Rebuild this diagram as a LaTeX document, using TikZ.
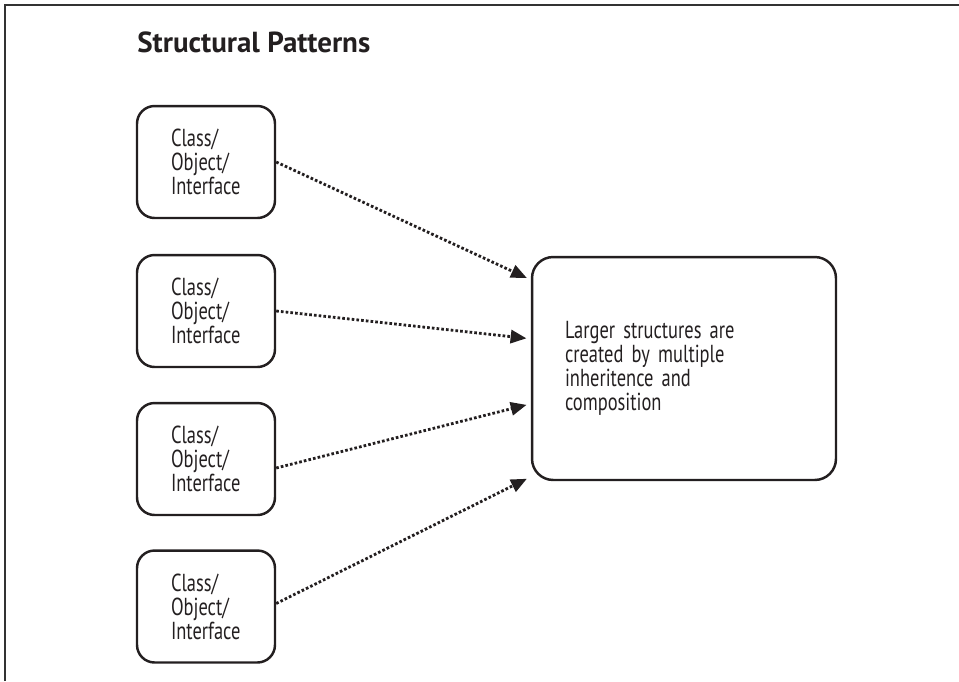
\documentclass[tikz,border=0pt]{standalone}
\usepackage{fontspec}
\setmainfont{PT Sans}[FakeStretch=0.75]
\newfontfamily\ttlfont{PT Sans}
\usetikzlibrary{arrows.meta, calc, positioning}
\definecolor{Ink}  {HTML}{231F20}
\definecolor{Frame}{HTML}{333333}
\tikzset{
  part/.style={
    rectangle, rounded corners=10pt,
    draw=Ink, line width=1.4pt, text=Ink,
    font=\fontsize{14}{13.6}\selectfont, align=left,
    text width=1.4cm, inner xsep=0.68cm,
    minimum width=2.76cm, minimum height=2.24cm,
  },
  whole/.style={
    part, text width=4.76cm, inner xsep=0.66cm,
    minimum width=6.08cm, minimum height=4.46cm, rounded corners=12pt,
  },
  arr/.style={
    -{Triangle[length=9pt,width=7.5pt]},
    line width=1.6pt, color=Ink,
    dash pattern=on 1.5pt off 1.2pt, shorten >=2.5pt,
  },
  ttl/.style={
    font=\ttlfont\fontsize{16.5}{18}\selectfont\bfseries, text=Ink,
    inner sep=0pt, anchor=base west,
  },
}
\begin{document}
\begin{tikzpicture}[x=0.02cm,y=-0.02cm]
        \useasboundingbox (0,0) rectangle (959,681);
        \draw[Frame, line width=1.2pt] (5,681) -- (5,5) -- (959,5);
        \node[ttl] (title) at (137,52) {Structural Patterns};
        \node[part] (c1) at (206,162)   {Class/\\Object/\\Interface};
        \node[part] (c2) at (206,311)   {Class/\\Object/\\Interface};
        \node[part] (c3) at (206,459)   {Class/\\Object/\\Interface};
        \node[part] (c4) at (206,606.5) {Class/\\Object/\\Interface};
        \node[whole] (big) at (684,368.5) {Larger structures are\\created by multiple\\inheritence and\\composition};
        \coordinate (in1) at ($(big.north west)+(0,24)$);
        \coordinate (in2) at ($(big.north west)+(0,83)$);
        \coordinate (in3) at ($(big.north west)+(0,148)$);
        \coordinate (in4) at ($(big.north west)+(0,221)$);
        \draw[arr] (c1.east) -- (in1);
        \draw[arr] (c2.east) -- (in2);
        \draw[arr] ([yshift=-9*0.02cm]c3.east) -- (in3);
        \draw[arr] ([yshift=3*0.02cm]c4.east) -- (in4);
      \end{tikzpicture}
\end{document}
